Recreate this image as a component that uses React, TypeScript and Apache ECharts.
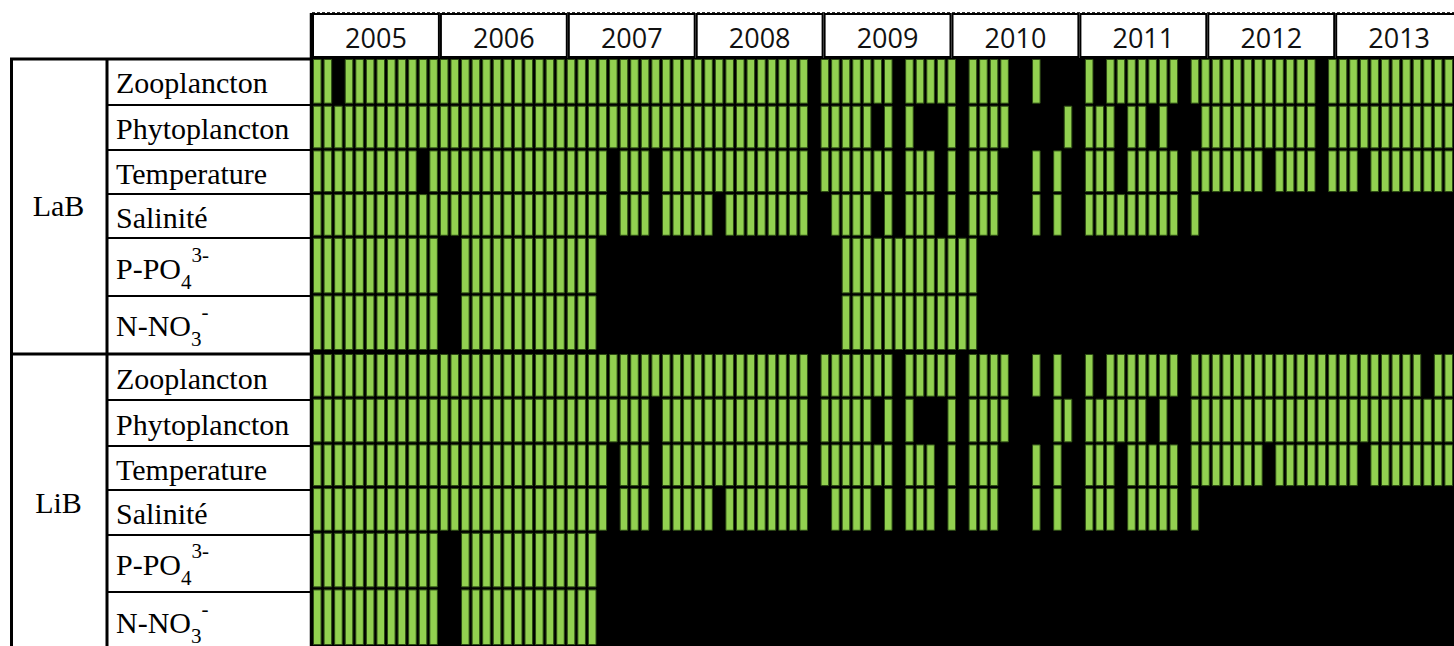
import React, { useEffect, useRef } from "react";
import * as echarts from "echarts";

// ---------- data ----------
const years = ["2005", "2006", "2007", "2008", "2009", "2010", "2011", "2012", "2013"];
const sites = ["LaB", "LiB"];
const variables = ["Zooplancton", "Phytoplancton", "Temperature", "Salinité", "P-PO4", "N-NO3"];

// one string per year, months Jan..Dec, "1" = data available, "0" = missing
const labZooplancton = ["110111111111", "111111111111", "111111111111", "111111111110", "111111101111", "101111001000", "010111111101", "111111111110", "111111111111"];
const labPhytoplancton = ["111111111111", "111111111111", "111111111111", "111111111110", "111110101000", "101111000001", "011101101000", "111111111110", "111111111111"];
const labTemperature = ["111111111101", "111111111111", "111101110111", "111111111110", "111111101110", "101110001010", "011101111101", "111111011110", "111011111111"];
const labSalinite = ["111111111111", "111111111111", "111101110111", "110111111110", "011110101110", "101110001010", "011111111101", "000000000000", "000000000000"];
const labPhosphate = ["111111111111", "001111111111", "111000000000", "000000000000", "001111111111", "111000000000", "000000000000", "000000000000", "000000000000"];
const labNitrate = ["111111111111", "001111111111", "111000000000", "000000000000", "001111111111", "111000000000", "000000000000", "000000000000", "000000000000"];

const libZooplancton = ["111111111111", "111111111111", "111111111111", "111111111110", "111111101111", "101111001010", "010111111101", "111111111111", "111111111011"];
const libPhytoplancton = ["111111111111", "111111111111", "111111110111", "111111111110", "111110101000", "101111000011", "011111101001", "111111111111", "111111111111"];
const libTemperature = ["111111111111", "111111111111", "111101110111", "111111111110", "111111101110", "101110001010", "011101111101", "111111011111", "111011111111"];
const libSalinite = ["111111111111", "111111111111", "111101110111", "110111111110", "011110101110", "101110001010", "011101111101", "000000000000", "000000000000"];
const libPhosphate = ["111111111111", "001111111111", "111000000000", "000000000000", "000000000000", "000000000000", "000000000000", "000000000000", "000000000000"];
const libNitrate = ["111111111111", "001111111111", "111000000000", "000000000000", "000000000000", "000000000000", "000000000000", "000000000000", "000000000000"];

const availability = [
  [labZooplancton, labPhytoplancton, labTemperature, labSalinite, labPhosphate, labNitrate],
  [libZooplancton, libPhytoplancton, libTemperature, libSalinite, libPhosphate, libNitrate],
];

// ---------- layout ----------
const W = 1454;
const H = 646;
const GRID_LEFT = 312;
const GRID_TOP = 58;
const YEAR_W = 127.9;
const GRID_W = YEAR_W * years.length;
const BLOCK_ROW_H = [
  [47, 45, 44, 44, 58, 57],
  [45, 46, 44, 45, 57, 58],
];
const BLOCK_GAP = 2;
const TABLE_LEFT = 10;
const GROUP_DIV = 107;
const GREEN = "#92D050";
const SERIF = "Liberation Serif";

const rowTops: number[] = [];
const rowHeights: number[] = [];
const blockTops: number[] = [];
const blockHeights: number[] = [];
{
  let acc = 0;
  BLOCK_ROW_H.forEach((hs, b) => {
    blockTops.push(acc);
    let bh = 0;
    hs.forEach((h) => {
      rowTops.push(acc);
      rowHeights.push(h);
      acc += h;
      bh += h;
    });
    blockHeights.push(bh);
    if (b < BLOCK_ROW_H.length - 1) acc += BLOCK_GAP;
  });
}
const GRID_H = rowTops[rowTops.length - 1] + rowHeights[rowHeights.length - 1];

function buildData() {
  const out: number[][] = [];
  availability.forEach((rows, s) => {
    rows.forEach((yearsStr, v) => {
      yearsStr.forEach((str, y) => {
        for (let m = 0; m < 12; m++) {
          if (str[m] === "1") out.push([y * 12 + m, s * variables.length + v]);
        }
      });
    });
  });
  return out;
}

function labelText(name: string) {
  if (name === "P-PO4") return "{m|P-PO}{sub|4}{sup|3-}";
  if (name === "N-NO3") return "{m|N-NO}{sub|3}{sup|-}";
  return "{m|" + name + "}";
}

function buildGraphics() {
  const els: any[] = [];
  const line = (x1: number, y1: number, x2: number, y2: number, w: number, extra: any = {}) =>
    els.push({
      type: "line",
      z: 20,
      shape: { x1, y1, x2, y2 },
      style: { stroke: "#000", lineWidth: w, ...extra },
      silent: true,
    });

  // header: dashed top line and year boxes
  line(GRID_LEFT, 12.5, W, 12.5, 1, { lineDash: [3, 2], stroke: "#333" });
  years.forEach((yr, i) => {
    const x = GRID_LEFT + i * YEAR_W;
    els.push({
      type: "rect",
      z: 10,
      shape: { x: x + 1, y: 14, width: YEAR_W - 2, height: 43 },
      style: { fill: "#fff", stroke: "#000", lineWidth: 2 },
    });
    els.push({
      type: "text",
      z: 11,
      x: x + YEAR_W / 2,
      y: 37,
      style: {
        text: yr,
        fontFamily: "Open Sans",
        fontSize: 27,
        fill: "#111",
        align: "center",
        verticalAlign: "middle",
      },
    });
  });

  // left table
  const tableTop = GRID_TOP;
  const tableBottom = H + 5;
  line(TABLE_LEFT, tableTop + 1, GRID_LEFT, tableTop + 1, 3);
  line(TABLE_LEFT + 1.5, tableTop, TABLE_LEFT + 1.5, tableBottom, 3);
  line(GROUP_DIV, tableTop, GROUP_DIV, tableBottom, 3);
  line(GRID_LEFT - 1, 13, GRID_LEFT - 1, tableBottom, 2.5);

  sites.forEach((site, s) => {
    const bTop = GRID_TOP + blockTops[s];
    const bH = blockHeights[s];
    if (s > 0) line(TABLE_LEFT, bTop - BLOCK_GAP / 2, GRID_LEFT, bTop - BLOCK_GAP / 2, 3);
    els.push({
      type: "text",
      z: 11,
      x: (TABLE_LEFT + GROUP_DIV) / 2,
      y: bTop + bH / 2,
      style: {
        text: site,
        fontFamily: SERIF,
        fontSize: 30,
        fill: "#000",
        align: "center",
        verticalAlign: "middle",
      },
    });
    variables.forEach((v, i) => {
      const r = s * variables.length + i;
      const top = GRID_TOP + rowTops[r];
      const h = rowHeights[r];
      if (i > 0) line(GROUP_DIV, top, GRID_LEFT, top, 1.8);
      els.push({
        type: "text",
        z: 11,
        x: GROUP_DIV + 9,
        y: top + h / 2 + 1,
        style: {
          text: labelText(v),
          align: "left",
          verticalAlign: "middle",
          fill: "#000",
          rich: {
            m: { fontFamily: SERIF, fontSize: 30, lineHeight: 48, fill: "#000" },
            sub: { fontFamily: SERIF, fontSize: 21, lineHeight: 30, verticalAlign: "bottom", fill: "#000" },
            sup: { fontFamily: SERIF, fontSize: 21, lineHeight: 22, verticalAlign: "top", fill: "#000" },
          },
        },
      });
    });
  });
  return els;
}

export default function App() {
  const ref = useRef<HTMLDivElement>(null);
  useEffect(() => {
    if (!ref.current) return;
    const chart = echarts.init(ref.current, undefined, { renderer: "svg" });
    chart.setOption({
      animation: false,
      backgroundColor: "#fff",
      grid: {
        left: GRID_LEFT,
        top: GRID_TOP,
        width: GRID_W,
        height: GRID_H,
        show: true,
        backgroundColor: "#000",
        borderWidth: 0,
      },
      xAxis: { type: "value", min: 0, max: years.length * 12, show: false },
      yAxis: { type: "value", min: 0, max: GRID_H, inverse: true, show: false },
      graphic: { elements: buildGraphics() },
      series: [
        {
          type: "custom",
          clip: false,
          data: buildData(),
          renderItem: (params: any, api: any) => {
            const m = api.value(0);
            const r = api.value(1);
            const p0 = api.coord([m, rowTops[r]]);
            const p1 = api.coord([m + 1, rowTops[r] + rowHeights[r]]);
            return {
              type: "rect",
              shape: {
                x: p0[0] + 1.5,
                y: p0[1] + 1.5,
                width: p1[0] - p0[0] - 3,
                height: p1[1] - p0[1] - 3,
              },
              style: { fill: GREEN, stroke: "#2C4A14", lineWidth: 1 },
            };
          },
        },
      ],
    });
    return () => chart.dispose();
  }, []);
  return (
    <div
      ref={ref}
      style={{ position: "fixed", left: 0, top: 0, width: W, height: H, background: "#fff" }}
    />
  );
}
